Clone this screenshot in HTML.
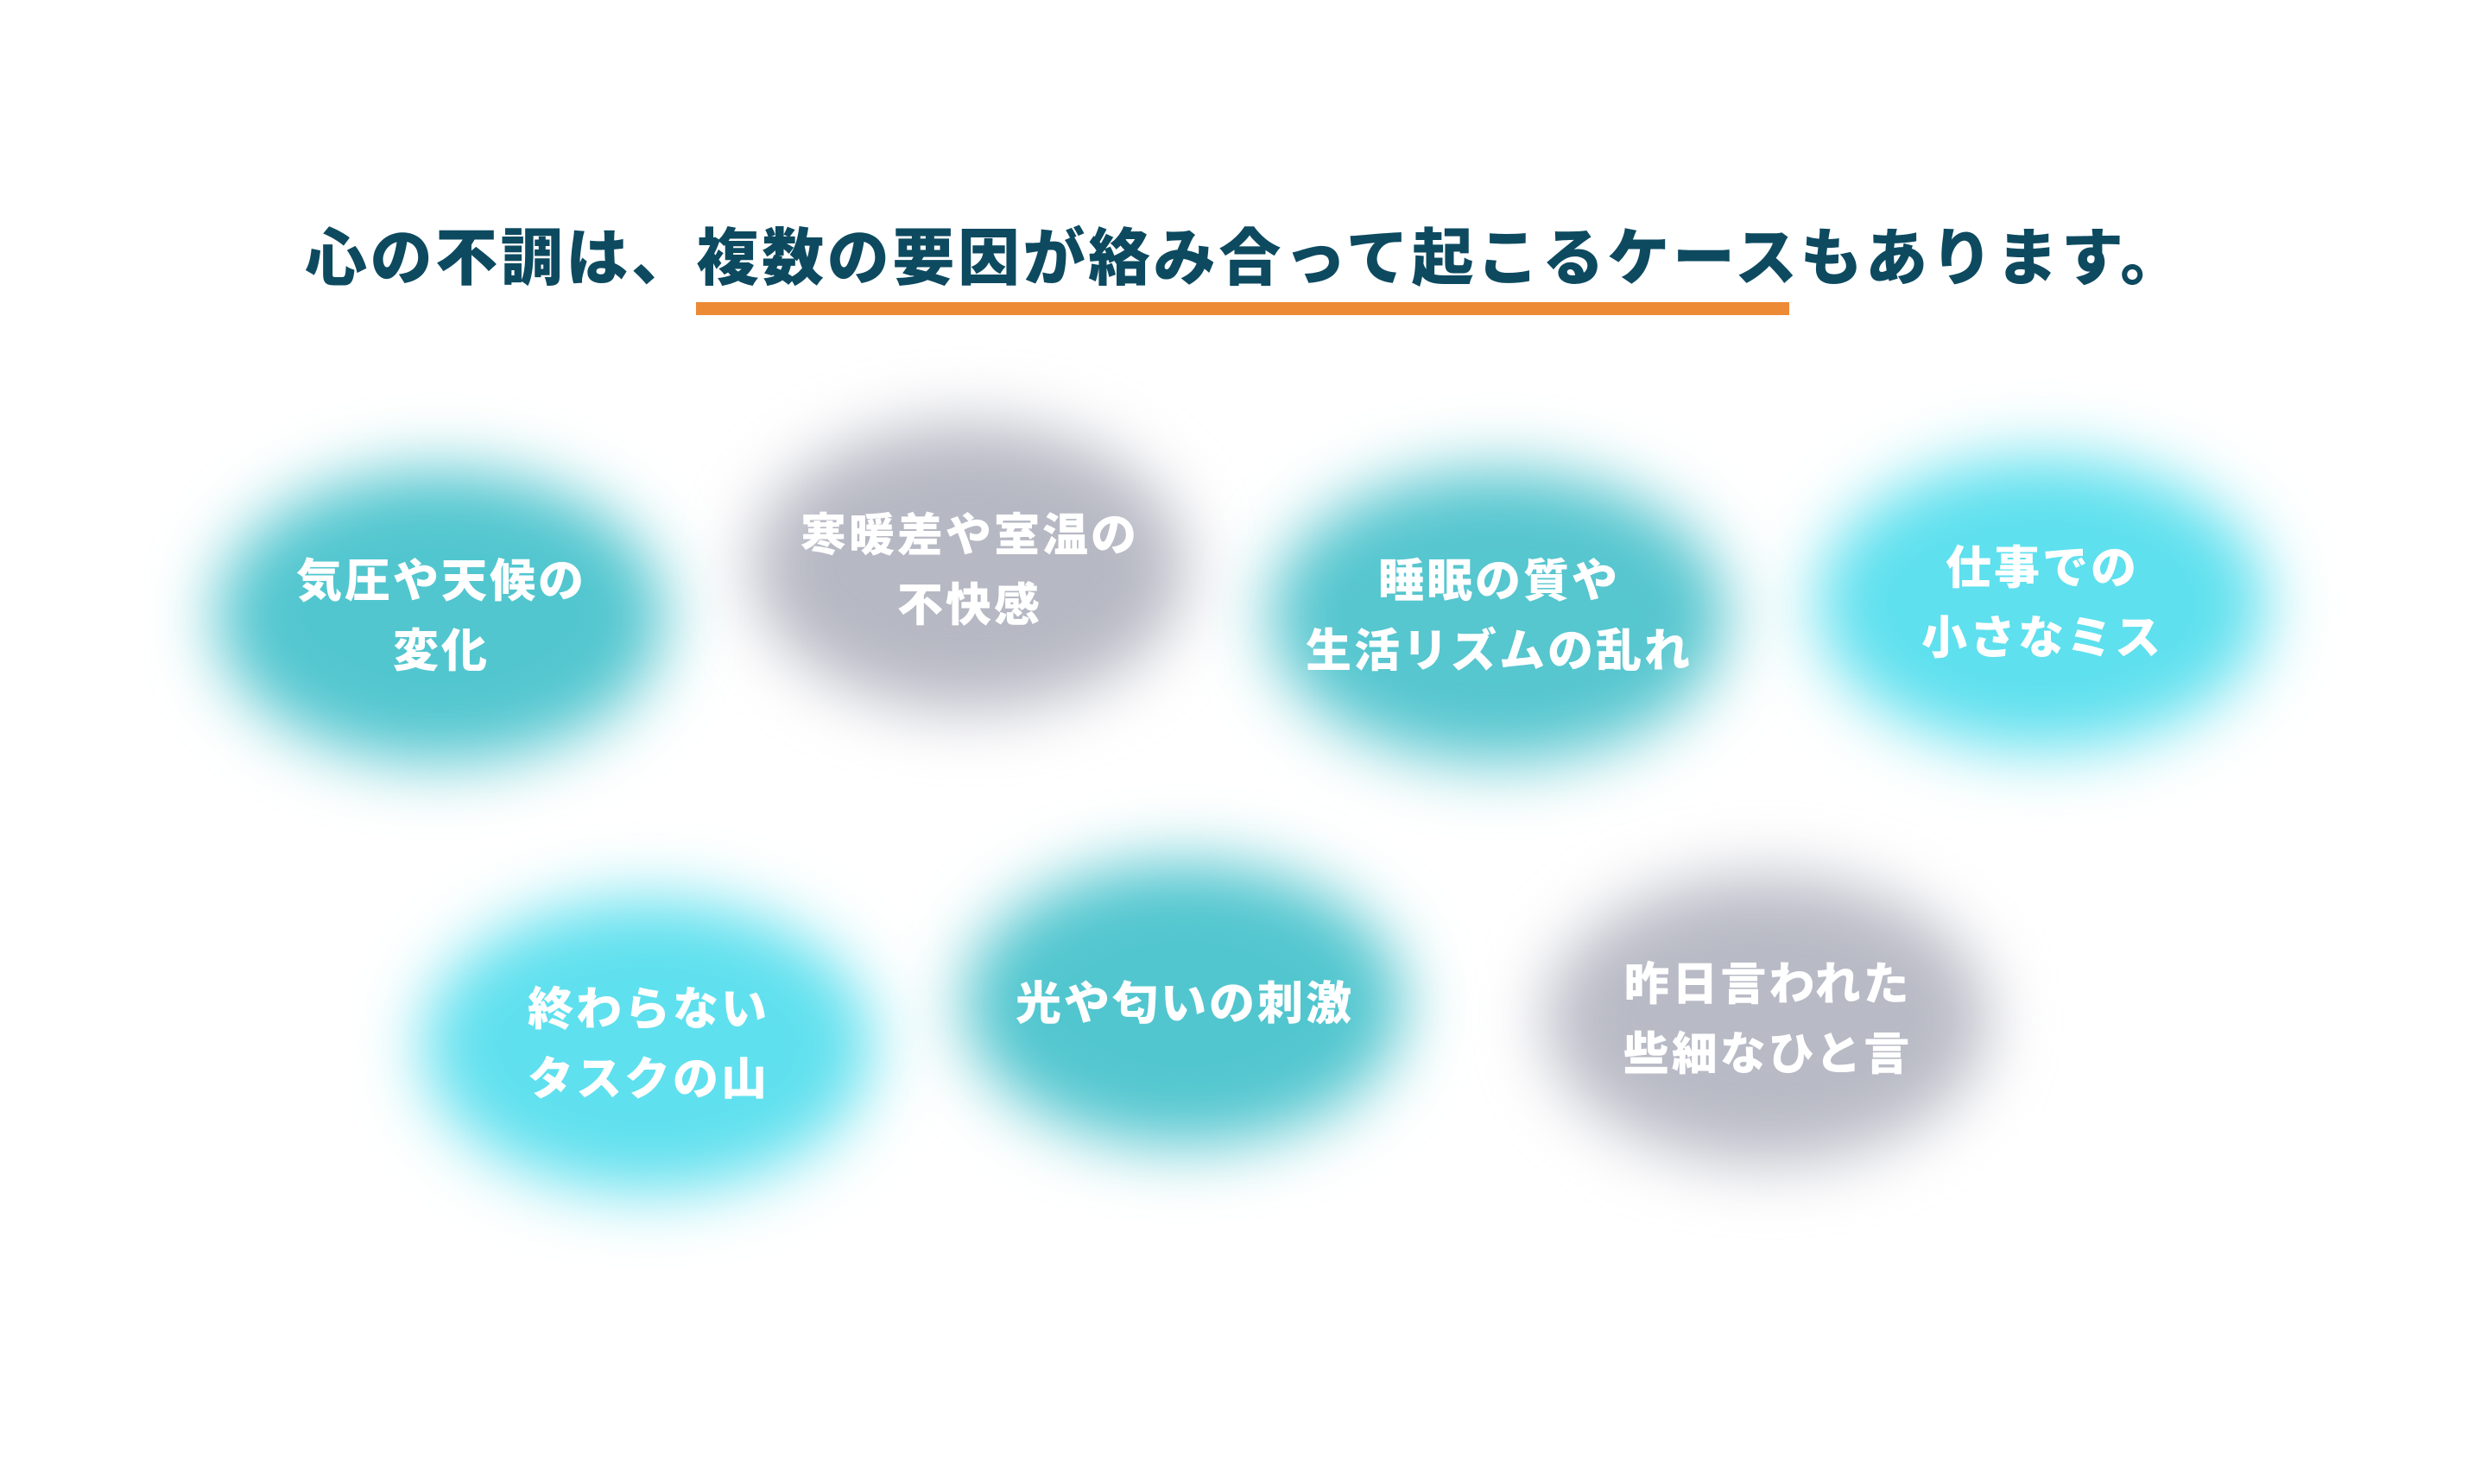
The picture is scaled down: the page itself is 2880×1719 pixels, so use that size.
<!DOCTYPE html>
<html><head><meta charset="utf-8"><style>
html,body{margin:0;padding:0;background:#fff;}
body{width:2880px;height:1719px;position:relative;overflow:hidden;font-family:"Liberation Sans","Noto Sans CJK JP",sans-serif;}
.title{position:absolute;left:2px;width:2880px;top:253px;text-align:center;font-size:72px;font-weight:900;color:#0d4a60;letter-spacing:3.6px;line-height:94px;}
.ul{position:absolute;left:806px;top:350px;width:1266px;height:15px;background:#ec8a35;}
.blob{position:absolute;border-radius:50%;filter:blur(38px);}
.t{position:absolute;text-align:center;color:#fff;font-weight:900;font-size:53px;line-height:81px;letter-spacing:3px;transform:translate(-50%,-50%);white-space:nowrap;}
</style></head><body>
<div class="title">心の不調は、複数の要因が絡み合って起こるケースもあります。</div>
<div class="ul"></div>

<div class="blob" style="left:250px;top:544px;width:520px;height:340px;background:#52c6cf"></div>
<div class="blob" style="left:872px;top:492px;width:500px;height:330px;background:#b6b8c3"></div>
<div class="blob" style="left:1470px;top:544px;width:530px;height:340px;background:#56c6cf"></div>
<div class="blob" style="left:2104px;top:529px;width:520px;height:340px;background:#5ee0ee"></div>
<div class="blob" style="left:490px;top:1041px;width:520px;height:340px;background:#5fe0ee"></div>
<div class="blob" style="left:1116px;top:998px;width:510px;height:330px;background:#52c6cf"></div>
<div class="blob" style="left:1791px;top:1016px;width:510px;height:330px;background:#b8bac5"></div>

<div class="t" style="left:511px;top:714px">気圧や天候の<br>変化</div>
<div class="t" style="left:1123px;top:661px">寒暖差や室温の<br>不快感</div>
<div class="t" style="left:1736px;top:714px">睡眠の質や<br>生活リズムの乱れ</div>
<div class="t" style="left:2365px;top:699px">仕事での<br>小さなミス</div>
<div class="t" style="left:751px;top:1210px">終わらない<br>タスクの山</div>
<div class="t" style="left:1372px;top:1163px">光や匂いの刺激</div>
<div class="t" style="left:2047px;top:1181px">昨日言われた<br>些細なひと言</div>
</body></html>
